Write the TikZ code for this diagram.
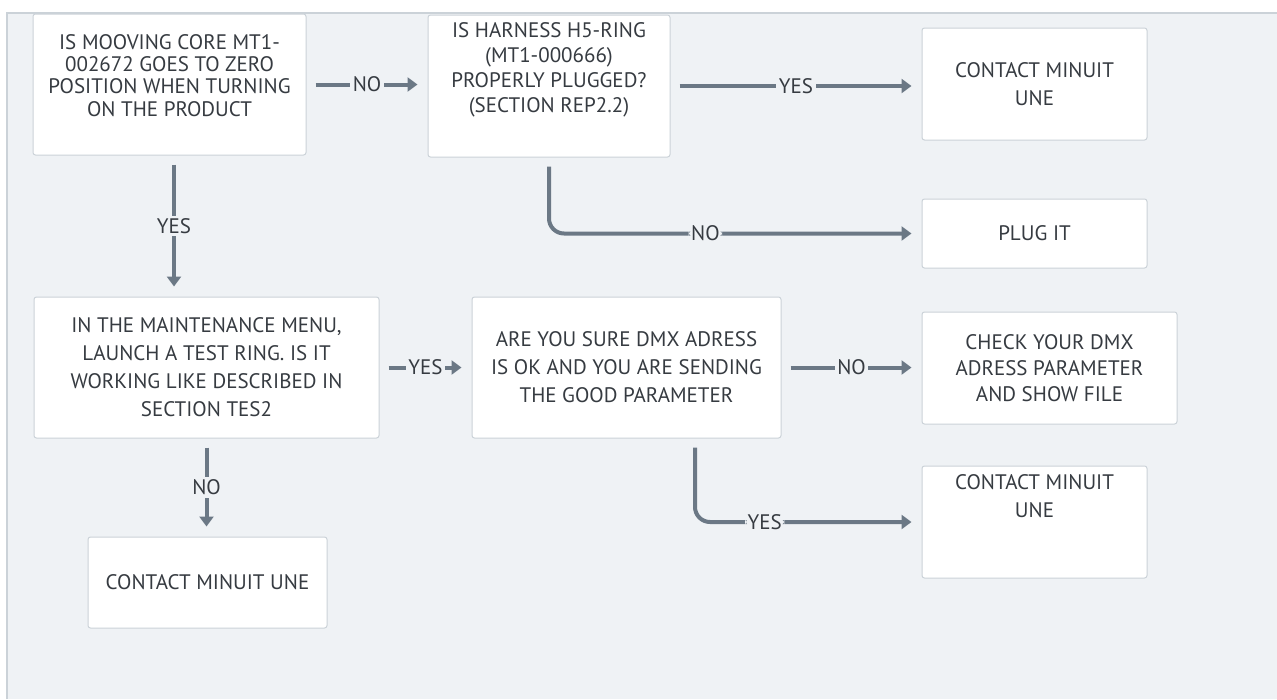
\documentclass[tikz,border=0pt]{standalone}
\usepackage{fontspec}
\setmainfont{PT Sans}
\usepackage{tikz}
\usetikzlibrary{arrows.meta}
\definecolor{canvasbg}{HTML}{EFF2F5}
\definecolor{boxline}{HTML}{CBD2D8}
\definecolor{linkgray}{HTML}{6B7885}
\definecolor{textgray}{HTML}{363B41}

\begin{document}
\begin{tikzpicture}[x=1pt, y=-1pt,
    step node/.style={rectangle, rounded corners=2.5pt, fill=white, draw=boxline, line width=1pt,
      text=textgray, align=center, font=\fontsize{21}{28}\selectfont, inner sep=0pt},
    link/.style={draw=linkgray, line width=4pt, shorten <=9pt, shorten >=10pt,
      -{Triangle[length=10pt,width=14pt]}},
    link label/.style={fill=canvasbg, text=textgray, font=\fontsize{21}{22.8}\selectfont, inner sep=2.5pt},
    ]
  \useasboundingbox (0,0) rectangle (1277,699);
  \fill[white] (0,0) rectangle (1277,699);
  \fill[canvasbg] (7,13) rectangle (1277,699);
  \draw[boxline, line width=1.5pt] (7,699) -- (7,13) -- (1277,13);

  \node[step node, minimum width=273pt, minimum height=141pt, font=\fontsize{21}{22.3}\selectfont] (A) at (169.5,84.5)
    {IS MOOVING CORE MT1-\\002672 GOES TO ZERO\\POSITION WHEN TURNING\\ON THE PRODUCT\\[-4pt]\mbox{}};
  \node[step node, minimum width=242pt, minimum height=142pt, font=\fontsize{21}{25}\selectfont] (B) at (549,86)
    {IS HARNESS H5-RING\\(MT1-000666)\\PROPERLY PLUGGED?\\(SECTION REP2.2)\\[11pt]\mbox{}};
  \node[step node, minimum width=225pt, minimum height=112pt] (C) at (1034.5,84)
    {CONTACT MINUIT\\UNE};
  \node[step node, minimum width=225pt, minimum height=69pt] (D) at (1034.5,233.5) {PLUG IT};

  \node[step node, minimum width=345pt, minimum height=141pt] (E) at (206.5,367.5)
    {IN THE MAINTENANCE MENU,\\LAUNCH A TEST RING. IS IT\\WORKING LIKE DESCRIBED IN\\SECTION TES2};
  \node[step node, minimum width=309pt, minimum height=141pt] (F) at (626.5,367.5)
    {ARE YOU SURE DMX ADRESS\\IS OK AND YOU ARE SENDING\\THE GOOD PARAMETER};
  \node[step node, minimum width=255pt, minimum height=112pt, font=\fontsize{21}{26}\selectfont] (G) at (1049.5,368)
    {CHECK YOUR DMX\\ADRESS PARAMETER\\AND SHOW FILE};
  \node[step node, minimum width=225pt, minimum height=112pt] (H) at (1034.5,522)
    {CONTACT MINUIT\\UNE\\[24pt]\mbox{}};
  \node[step node, minimum width=239pt, minimum height=91pt] (I) at (207.5,582.5)
    {CONTACT MINUIT UNE};

  \draw[link] (A.east) -- node[link label] {NO} (A.east -| B.west);
  \draw[link] (B.east) -- node[link label] {YES} (B.east -| C.west);
  \draw[link, rounded corners=15pt] (B.south) |- node[link label, pos=0.71] {NO} (D.west);
  \draw[link] ([xshift=4.5pt]A.south) -- node[link label] {YES} ([xshift=4.5pt]A.south |- E.north);

  \draw[link] (E.east) -- node[link label] {YES} (E.east -| F.west);
  \draw[link] (F.east) -- node[link label] {NO} (F.east -| G.west);
  \draw[link, rounded corners=15pt] ([xshift=68.5pt]F.south) |- node[link label, pos=0.654] {YES} (H.west);
  \draw[link] (E.south) -- node[link label] {NO} (E.south |- I.north);
\end{tikzpicture}
\end{document}
